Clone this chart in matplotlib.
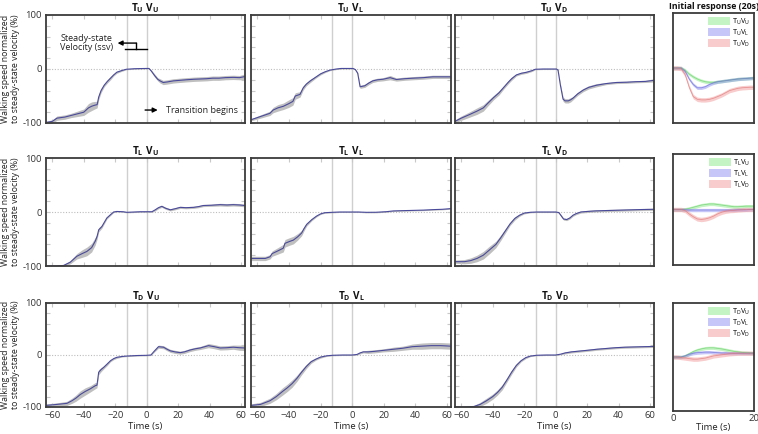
import numpy as np
import matplotlib
matplotlib.use("Agg")
import matplotlib.pyplot as plt
from matplotlib.patches import Patch

plt.rcParams['font.family'] = ['Open Sans', 'DejaVu Sans']
plt.rcParams['mathtext.fontset'] = 'custom'
plt.rcParams['mathtext.rm'] = 'Open Sans'
plt.rcParams['mathtext.bf'] = 'Open Sans:bold'

# ---------------- data: main panels (time s, mean %, half-band %) ----------------
t_uu = [-64,-60,-57,-52,-48,-44,-40,-37,-35,-33,-31.5,-30.5,-29,-27,-25,-23,-21,-19,-16,-13,-8,-4,0,1.5,3,5,7,8.5,10.5,13,17,21,25,30,34,38,42,46,50,55,59,62.5]
m_uu = [-99,-97,-91,-89,-86,-83,-80,-72,-69,-67,-66,-52,-40,-30,-23,-17,-11,-6,-3,-0.5,0.5,0.8,1,1,-4,-12,-19,-22,-25,-24,-22,-21,-20,-19,-18.5,-18,-17,-17,-16,-15.5,-16,-14]
e_uu = [2,3,4,4,4,5,6,8,8,7,6,5,4,3,3,3,2,2,1.5,1,0.8,0.8,0.8,1,2,3,3,4,4,4,4,4,4,4,4,4,4,4,4,4,4,5]

t_ul = [-64,-58,-52,-50,-47,-43.5,-40,-37.5,-36,-33,-31,-29,-26.5,-23,-20,-17,-14,-10,-7,-3,0.5,2,3.5,5,6.5,8,10.5,13,16,19.5,24,28,33,38.5,45,51,56,62.5]
m_ul = [-94,-88,-82,-76,-72,-69,-64,-60,-50,-47,-35,-28,-22,-15,-9,-5,-2,0,1,1,1,-1,-8,-33,-32,-31,-26,-22,-20,-19,-16,-19.5,-18,-17,-16,-14.5,-14.5,-14.5]
e_ul = [2,3,4,5,6,6,7,7,6,5,4,3,3,2,2,1.5,1,1,1,1,1,1,2,3,3,3,3,3,3,3,4,3,3,3,3,3,3,3]

t_ud = [-64,-60,-54.5,-50,-46,-43,-39.5,-36,-33,-30,-28,-25,-22,-18.5,-15,-13,-8,-3,0.5,1.5,3,4.7,6,8,9.5,11,14,17.5,21,26,32,38.5,45,51,57,62.5]
m_ud = [-97,-91,-84,-78,-72,-63,-53,-44,-34,-24,-18,-11,-8,-6,-3,-0.5,0,0,0,-2,-30,-56,-59,-59,-57,-54,-46,-39,-34,-30,-27,-25,-24.5,-23.5,-23,-21]
e_ud = [3,4,5,6,6,5,4,4,3,3,3,2,2,2,1.5,1,1,1,1,1,3,4,4,4,4,3,3,3,3,3,2,2,2,2,2,3]

t_lu = [-64,-58,-52.8,-48.6,-44.4,-41,-38,-35,-32.7,-31.5,-30.5,-28.5,-25.3,-23,-21,-19,-15,-12.6,-8,-4,0,3.3,5.4,7.5,9.6,12,15,18,21.3,25,29.8,33,36,41,46.7,51,55,59,62.5]
m_lu = [-100,-100,-99,-93,-82,-77,-73,-66,-54,-45,-33,-27,-11,-5,0,1,0.5,-0.6,0,0.5,0.5,0.5,4,8,10.5,7,4,6,8.6,8,8.6,10,12,12.5,13.6,13,13.6,13,12]
e_lu = [1,1,2,3,5,7,8,8,7,5,4,3,2,1.5,1,1,1,1,1,1,1,1,2,2,2,2,2,2,2,2,2,2,2,2,2.5,2.5,2.5,2.5,2.5]

t_ll = [-64,-55,-52,-50.6,-47,-43.6,-42.5,-40,-37.2,-34.5,-32,-30.5,-28.8,-25.5,-22.5,-20,-17.3,-12,-7.8,0,4,9,15,21.7,26,32,38.6,45,51.3,57,62.5]
m_ll = [-86,-86,-83,-77,-72,-67,-58,-55,-52,-46,-39,-31,-23,-14,-7.5,-3.5,-1.3,-0.5,0,0,0,-0.6,-0.5,0.6,2,2.5,3,3.5,4.4,5,6.3]
e_ll = [4,4,4,5,6,7,7,7,7,6,5,4,3,2,1.5,1,1,1,0.8,0.8,0.8,1,1,1,1,1,1,1,1,1,1]

t_ld = [-64,-58,-54,-50,-46,-42,-38,-35,-32,-29,-26,-23,-20,-16,-12,-6,0,2,3.5,5,7,9,11,13,16,20,25,30,36,42,48,54,62.5]
m_ld = [-92,-92,-90,-86,-80,-70,-60,-48,-35,-22,-12,-6,-2,-0.5,0,0,0,-1,-7,-13,-14,-11,-6,-3,0,1,2,2.5,3,3.5,4,4.5,5]
e_ld = [3,4,5,6,7,7,6,5,4,3,3,2,1.5,1,1,1,1,1,2,2,2,2,2,2,2,2,2,2,2,2,2,2,2]

t_du = [-64,-57,-50.7,-47.5,-45,-42.2,-39,-35.8,-32.7,-31.6,-30.5,-29,-27.4,-25,-23,-21,-19,-16,-12.6,-6,0,2.7,5,7.5,10.7,13,15,18,21.3,24,27.6,31,34,39.3,43,46.7,51,55,59,62.5]
m_du = [-97,-95,-93,-88,-83,-76,-70,-65,-59,-58,-33,-28,-24,-17,-11,-7,-4.5,-3,-2,-1,-0.6,0,8,16,15,11,8,6,4.5,6,9.6,12,13.5,18,16,13.5,14,15,14,13.5]
e_du = [3,3,4,5,6,7,7,6,6,5,5,4,3,3,2,2,2,1,1,1,1,1,2,3,3,3,3,3,3,3,3,3,3,4,4,4,4,4,5,5]

t_dl = [-64,-58,-52,-48,-44,-41,-38,-35,-32,-29,-26,-23,-20,-16,-12,-6,0,3,5,7,10,14,20,26,32,38,44,50,56,62.5]
m_dl = [-97,-95,-88,-80,-70,-63,-55,-45,-33,-22,-13,-8,-4,-1.5,-0.5,0,0,1,4,6,6,7,9,11,13,16,17,18,18,17]
e_dl = [3,4,5,6,7,7,7,6,5,4,3,2,2,1,1,1,1,1,2,2,3,3,3,4,4,5,6,6,6,6]

t_dd = [-64,-58,-52,-48,-44,-40,-37,-34,-31,-28,-25,-22,-19,-16,-12,-6,0,3,6,10,15,20,26,32,38,44,50,56,62.5]
m_dd = [-100,-100,-99,-95,-88,-80,-72,-62,-48,-33,-20,-11,-5,-2,-0.5,0,0,1.5,4,6,7.5,9,11,12.5,14,15,15.5,16,16.5]
e_dd = [1,1,2,4,5,5,5,5,4,4,3,2,2,1,1,1,1,1,2,2,2,2,2,2,2,2,2,2,2]

# ---------------- data: initial response (first 20 s) ----------------
t_init = [0,1,2,3,4,5,6,7,8,9,10,11,12,13,14,15,16,17,18,19,20]
i_uu = [0,0,0,-4,-11,-16,-20,-23,-25,-26,-26,-25,-24,-23,-22,-21,-20,-19.5,-19,-18.5,-18]
i_ul = [0,0,0,-6,-20,-30,-36,-36,-34,-30,-27,-25,-24,-23,-22,-21,-20,-19.5,-19,-18.5,-18]
i_ud = [0,0,-1,-12,-35,-52,-57,-58,-58,-57,-55,-52,-49,-45,-41,-39,-37,-36,-35.5,-35,-35]
i_lu = [0,0,0,0.5,2,4,6,8,9,10,10,9,8,7,6,5,5,5.5,6,6,6]
i_ll = [0,0,0,-0.5,-1,-1,-1,-1,-1,-1,-1,-1,-1,-1,-1,-1,-0.5,-0.5,-0.5,0,0]
i_ld = [0,0,0,-2,-8,-13,-17,-18,-17,-15,-12,-8,-5,-3,-2,-1.5,-1,-0.5,0,0,0]
i_du = [0,0,0,2,6,10,13,15,16.5,17,17,16,15,13.5,12,10.5,9.5,8.5,8,7.5,7]
i_dl = [0,0,0,2,5,7,8,8.5,9,9,8.5,8,7.5,7.5,7,7,7,7,7,7,7]
i_dd = [0,0,-1,-2,-3,-4,-4,-3,-2,0,2,3,4,5,6,6.5,7,7,7,7,7]
i_band = [3, 3, 4]

terrain = ['U', 'L', 'D']
visual = ['U', 'L', 'D']
main_data = [[(t_uu, m_uu, e_uu), (t_ul, m_ul, e_ul), (t_ud, m_ud, e_ud)],
             [(t_lu, m_lu, e_lu), (t_ll, m_ll, e_ll), (t_ld, m_ld, e_ld)],
             [(t_du, m_du, e_du), (t_dl, m_dl, e_dl), (t_dd, m_dd, e_dd)]]
init_data = [[i_uu, i_ul, i_ud], [i_lu, i_ll, i_ld], [i_du, i_dl, i_dd]]
vlines = [-12.5, 0]
x_ticks = [-60, -40, -20, 0, 20, 40, 60]

# ---------------- layout ----------------
W, H = 758, 434
fig = plt.figure(figsize=(W / 100, H / 100), dpi=100)

col_x = [(46, 245), (251, 451), (455, 654)]
row_y = [(15, 123), (158, 266), (303, 407)]
small_x = (673, 754)
small_y = [(13, 123), (154, 265), (303, 411)]

def rect(xr, yr):
    return [xr[0] / W, 1 - yr[1] / H, (xr[1] - xr[0]) / W, (yr[1] - yr[0]) / H]

spine_c = '#3c3c3c'
line_c = '#4a4a9a'
band_c = '#b4b4b4'
fill_cols = ['#8be88b', '#8f8ff2', '#f29a9a']
edge_cols = ['#6ccf6c', '#6f6fd8', '#e07a7a']
FS = 6.8

for r in range(3):
    for c in range(3):
        ax = fig.add_axes(rect(col_x[c], row_y[r]))
        t, m, e = main_data[r][c]
        t = np.array(t); m = np.array(m); e = np.array(e)
        ax.fill_between(t, m - e, m + e, color=band_c, alpha=0.85, lw=0)
        ax.plot(t, m, color=line_c, lw=0.8)
        for v in vlines:
            ax.axvline(v, color='#cfcfcf', lw=1.0, zorder=0)
        ax.axhline(0, color='#bdbdbd', lw=0.8, ls=(0, (1, 1.5)), zorder=0)
        ax.set_xlim(-64, 62.5)
        ax.set_ylim(-100, 100)
        ax.set_xticks(x_ticks)
        ax.set_yticks(np.arange(-100, 101, 20))
        ax.tick_params(which='both', direction='in', length=3, color='#c8c8c8',
                       top=True, right=True, labelsize=FS, labelcolor='#333333', pad=3)
        for s in ax.spines.values():
            s.set_color(spine_c)
            s.set_linewidth(1.3)
        ax.set_yticklabels(['-100' if y == -100 else ('0' if y == 0 else ('100' if y == 100 else ''))
                            for y in range(-100, 101, 20)])
        if c > 0:
            ax.tick_params(labelleft=False)
        if r < 2:
            ax.tick_params(labelbottom=False)
        else:
            ax.set_xlabel('Time (s)', fontsize=FS, labelpad=1, color='#222222')
        if c == 0:
            ax.set_ylabel('Walking speed normalized\nto steady-state velocity (%)',
                          fontsize=6.3, labelpad=2, color='#222222', linespacing=1.15)
        ax.set_title(r'$\mathbf{T_{%s}\ V_{%s}}$' % (terrain[r], visual[c]),
                     fontsize=7.2, pad=3, color='#111111')
        if r == 0 and c == 0:
            ax.text(-55, 57, 'Steady-state', fontsize=6.5, va='center', color='#222222')
            ax.text(-55, 39, 'Velocity (ssv)', fontsize=6.5, va='center', color='#222222')
            ax.annotate('', xy=(-18.5, 48), xytext=(-6.5, 48),
                        arrowprops=dict(arrowstyle='-|>', color='black', lw=1.0,
                                        mutation_scale=7, shrinkA=0, shrinkB=0))
            ax.plot([-6.5, -6.5], [48, 37], color='black', lw=1.0)
            ax.plot([-13.5, 0.5], [37, 37], color='black', lw=1.0)
            ax.annotate('', xy=(7, -76), xytext=(-1, -76),
                        arrowprops=dict(arrowstyle='-|>', color='black', lw=1.0,
                                        mutation_scale=7, shrinkA=0, shrinkB=0))
            ax.text(12, -76, 'Transition begins', fontsize=6.5, va='center', color='#222222')

    # small panel
    ax = fig.add_axes(rect(small_x, small_y[r]))
    handles = []
    for k in range(3):
        y = np.array(init_data[r][k])
        b = i_band[k]
        ax.fill_between(t_init, y - b, y + b, color=fill_cols[k], alpha=0.5, lw=0)
        ax.plot(t_init, y, color=edge_cols[k], lw=0.6, alpha=0.7)
        handles.append(Patch(facecolor=fill_cols[k], alpha=0.5, edgecolor='none',
                             label=r'T$_\mathregular{%s}$V$_\mathregular{%s}$' % (terrain[r], visual[k])))
    ax.set_xlim(0, 20)
    ax.set_ylim(-100, 100)
    ax.set_yticks([])
    ax.set_xticks([0, 20])
    ax.tick_params(direction='in', length=0, labelsize=FS, labelcolor='#333333', pad=2)
    for s in ax.spines.values():
        s.set_color(spine_c)
        s.set_linewidth(1.3)
    if r < 2:
        ax.tick_params(labelbottom=False)
    else:
        ax.set_xlabel('Time (s)', fontsize=FS, labelpad=0, color='#222222')
    ax.legend(handles=handles, loc='upper right', fontsize=5.3, frameon=False,
              handlelength=3.0, handleheight=1.2, borderpad=0.2, labelspacing=0.1,
              handletextpad=0.3, borderaxespad=0.3)

fig.text(714 / W, 1 - 6.5 / H, 'Initial response (20s)', fontsize=6.3, fontweight='bold',
         ha='center', va='center', color='#111111')

fig.savefig('out.png', dpi=100)
